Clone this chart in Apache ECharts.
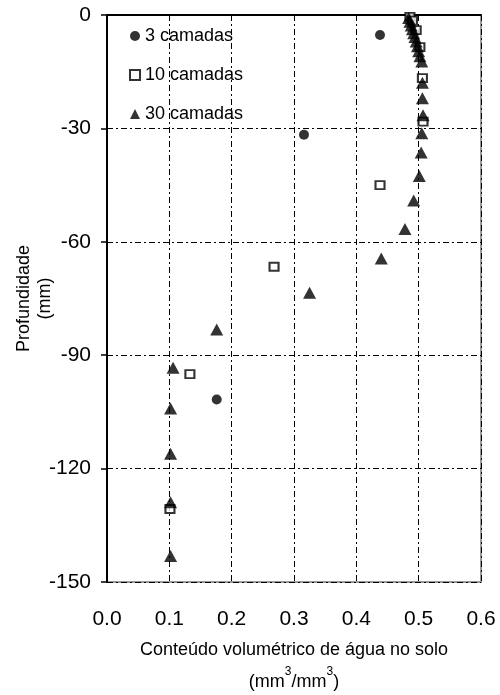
<!DOCTYPE html>
<html>
<head>
<meta charset="utf-8">
<script src="https://cdn.jsdelivr.net/npm/echarts@6/dist/echarts.min.js"></script>
<style>
	html, body { margin: 0; padding: 0; background: #fff; }
	#main { width: 500px; height: 695px; }
</style>
</head>
<body>
<div id="main"></div>
<script>
	// 3 camadas: [teor de água, profundidade]
	var camadas3 = [
		[0.438, -5.3], [0.316, -31.7], [0.176, -101.7]
	];
	// 10 camadas
	var camadas10 = [
		[0.486, -0.5], [0.490, -1.5], [0.496, -4], [0.502, -8.5], [0.506, -16.7],
		[0.507, -28.2], [0.438, -45], [0.268, -66.6], [0.133, -95], [0.101, -130.7]
	];
	// 30 camadas
	var camadas30 = [
		[0.484, -0.8], [0.486, -1.8], [0.488, -2.8], [0.490, -3.8], [0.492, -4.8],
		[0.494, -5.8], [0.496, -7], [0.498, -8.3], [0.500, -9.6], [0.502, -10.9],
		[0.505, -12.3], [0.506, -17.9], [0.506, -22], [0.507, -26.5], [0.505, -31.3],
		[0.504, -36.4], [0.501, -42.6], [0.492, -49.1], [0.478, -56.6], [0.440, -64.4],
		[0.325, -73.5], [0.176, -83.2], [0.106, -93.3], [0.102, -104.1], [0.102, -116.1],
		[0.102, -128.9], [0.102, -143.1]
	];
	var nomes = ['3 camadas', '10 camadas', '30 camadas'];

	var font = 'Liberation Sans, Arial, sans-serif';
	var gridLine = { color: '#000', width: 1, type: [6, 3, 2, 3] };

	var myChart = echarts.init(document.getElementById('main'));

	var option = {
		animation: false,
		textStyle: { fontFamily: font, color: '#000' },
		grid: {
			left: 107, right: 19, top: 15, bottom: 113,
			outerBoundsMode: 'none',
			containLabel: false,
			show: true, borderColor: '#999', borderWidth: 2
		},
		legend: {
			data: nomes,
			orient: 'vertical',
			left: 129, top: 27,
			padding: 0,
			itemWidth: 10, itemHeight: 10, itemGap: 21,
			textStyle: { fontSize: 18, color: '#000', fontFamily: font }
		},
		xAxis: [{
			type: 'value',
			min: 0, max: 0.6, interval: 0.1,
			position: 'bottom',
			axisLine: { show: true, lineStyle: { color: '#999', width: 2 } },
			axisTick: { show: false },
			axisLabel: {
				fontSize: 21, color: '#000', margin: 27,
				formatter: function(v) { return v.toFixed(1); }
			},
			splitLine: { show: true, lineStyle: gridLine },
			name: '{t|Conteúdo volumétrico de água no solo}\n{t|(mm}{s|3}{t|/mm}{s|3}{t|)}',
			nameLocation: 'middle',
			nameGap: 52,
			nameMoveOverlap: false,
			nameTextStyle: {
				rich: {
					t: { fontSize: 18, lineHeight: 32, color: '#000', fontFamily: font },
					s: { fontSize: 12, lineHeight: 24, verticalAlign: 'top', color: '#000', fontFamily: font }
				}
			}
		}, {
			type: 'value',
			min: 0, max: 0.6, interval: 0.1,
			position: 'top',
			axisLine: { show: true, lineStyle: { color: '#000', width: 2 } },
			axisTick: { show: false },
			axisLabel: { show: false },
			splitLine: { show: false }
		}],
		yAxis: {
			type: 'value',
			min: -150, max: 0, interval: 30,
			axisLine: { show: true, lineStyle: { color: '#000', width: 2 } },
			axisTick: { show: true, inside: false, length: 6, lineStyle: { color: '#000', width: 1.5 } },
			axisLabel: { fontSize: 21, color: '#000', margin: 16 },
			splitLine: { show: true, lineStyle: gridLine },
			name: '{t|Profundidade}\n{t|(mm)}',
			nameLocation: 'middle',
			nameRotate: 90,
			nameGap: 51,
			nameMoveOverlap: false,
			nameTextStyle: {
				rich: {
					t: { fontSize: 18, lineHeight: 21, color: '#000', fontFamily: font }
				}
			}
		},
		series: [{
			name: nomes[0],
			type: 'scatter',
			symbol: 'circle',
			symbolSize: 10,
			itemStyle: { color: '#000' },
			data: camadas3
		}, {
			name: nomes[1],
			type: 'scatter',
			symbol: 'rect',
			symbolSize: [9, 8],
			itemStyle: { color: '#fff', borderColor: '#000', borderWidth: 2 },
			data: camadas10
		}, {
			name: nomes[2],
			type: 'scatter',
			symbol: 'triangle',
			symbolSize: [13, 12],
			itemStyle: { color: '#000' },
			data: camadas30
		}]
	};

	myChart.setOption(option);
</script>
</body>
</html>
